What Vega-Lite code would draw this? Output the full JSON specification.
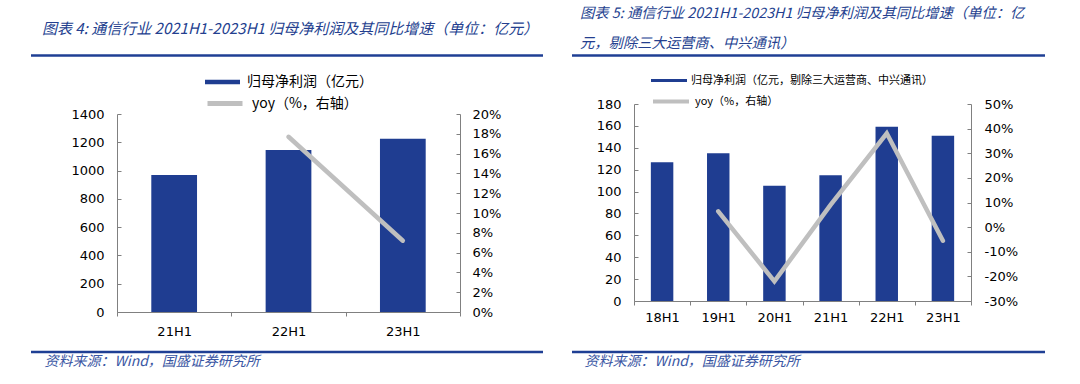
{
  "$schema": "https://vega.github.io/schema/vega-lite/v6.json",
  "padding": {"left": 29, "top": 6, "right": 5, "bottom": 5},
  "spacing": 25,
  "background": "white",
  "config": {
    "view": {"stroke": null},
    "axis": {"domainColor": "#808080", "tickColor": "#808080", "labelFont": "DejaVu Sans", "labelFontSize": 13, "labelColor": "#000000", "grid": false, "domainWidth": 1, "tickWidth": 1},
    "legend": {"labelFont": "Noto Sans CJK SC", "labelColor": "#000000", "padding": 0, "titlePadding": 0, "labelLimit": 600}
  },
  "resolve": {"scale": {"x": "independent", "y": "independent", "fill": "independent", "stroke": "independent"}, "legend": {"fill": "independent", "stroke": "independent"}},
  "hconcat": [
    {
      "width": 343,
      "height": 208,
      "title": {"text": "图表 4: 通信行业 2021H1-2023H1 归母净利润及其同比增速（单位：亿元）", "anchor": "start", "frame": "group", "dx": -75, "offset": 17, "font": "Noto Sans CJK SC", "fontSize": 15, "fontStyle": "italic", "fontWeight": "normal", "color": "#243f8f"},
      "data": {"values": [
        {"period": "21H1", "profit": 968, "yoy": null},
        {"period": "22H1", "profit": 1145, "yoy": 17.7},
        {"period": "23H1", "profit": 1225, "yoy": 7.2}
      ]},
      "layer": [
        {
          "mark": {"type": "bar", "color": "#1f3d91", "width": {"band": 0.4}},
          "encoding": {
            "x": {"field": "period", "type": "nominal", "sort": null, "scale": {"paddingInner": 0, "paddingOuter": 0},
              "axis": {"title": "资料来源：Wind，国盛证券研究所", "titleFont": "Noto Sans CJK SC", "titleFontSize": 14, "titleFontStyle": "italic", "titleFontWeight": "normal", "titleColor": "#3a56a3", "titleAnchor": "start", "titleAlign": "left", "titleBaseline": "middle", "titleX": -73, "titleY": 49, "labelAngle": 0, "tickBand": "extent", "tickSize": 4, "labelPadding": 9}},
            "y": {"field": "profit", "type": "quantitative", "scale": {"domain": [0, 1400], "range": [208, 10], "nice": false},
              "axis": {"orient": "left", "title": null, "format": "d", "values": [0, 200, 400, 600, 800, 1000, 1200, 1400], "tickSize": -4, "labelPadding": 17}},
            "fill": {"datum": "归母净利润（亿元）", "scale": {"range": ["#1f3d91"]},
              "legend": {"title": null, "orient": "none", "legendX": 88, "legendY": -39.5, "symbolType": "M-1,-0.13H1V0.13H-1Z", "symbolSize": 1225, "symbolStrokeWidth": 0, "labelFontSize": 14, "labelOffset": 7}}
          }
        },
        {
          "mark": {"type": "line", "strokeWidth": 4.5, "strokeCap": "round"},
          "encoding": {
            "x": {"field": "period", "type": "nominal", "sort": null},
            "y": {"field": "yoy", "type": "quantitative", "scale": {"domain": [0, 20], "range": [208, 10], "nice": false},
              "axis": {"orient": "right", "title": null, "values": [0, 2, 4, 6, 8, 10, 12, 14, 16, 18, 20], "labelExpr": "datum.value + '%'", "tickSize": -4, "labelPadding": 16}},
            "stroke": {"datum": "yoy（%，右轴）", "scale": {"range": ["#bfbfbf"]},
              "legend": {"title": null, "orient": "none", "legendX": 88, "legendY": -20.5, "symbolType": "stroke", "symbolSize": 1225, "symbolStrokeWidth": 5, "labelFontSize": 14, "labelOffset": 7}}
          }
        },
        {
          "data": {"values": [{}]},
          "mark": {"type": "rule", "color": "#1f3f94", "strokeWidth": 2.5},
          "encoding": {"x": {"value": -86}, "x2": {"value": 426}, "y": {"value": -48.5}}
        },
        {
          "data": {"values": [{}]},
          "mark": {"type": "rule", "color": "#1f3f94", "strokeWidth": 2.5},
          "encoding": {"x": {"value": -86}, "x2": {"value": 426}, "y": {"value": 248}}
        }
      ],
      "resolve": {"scale": {"y": "independent"}}
    },
    {
      "width": 337,
      "height": 197,
      "title": {"text": ["图表 5: 通信行业 2021H1-2023H1 归母净利润及其同比增速（单位：亿", "元，剔除三大运营商、中兴通讯）"], "lineHeight": 30, "anchor": "start", "frame": "group", "dx": -54, "offset": 3, "font": "Noto Sans CJK SC", "fontSize": 14.3, "fontStyle": "italic", "fontWeight": "normal", "color": "#243f8f"},
      "data": {"values": [
        {"period": "18H1", "profit": 126.7, "yoy": null},
        {"period": "19H1", "profit": 135, "yoy": 6.4},
        {"period": "20H1", "profit": 105.4, "yoy": -22},
        {"period": "21H1", "profit": 115, "yoy": 9},
        {"period": "22H1", "profit": 159.3, "yoy": 38.1},
        {"period": "23H1", "profit": 151, "yoy": -5.5}
      ]},
      "layer": [
        {
          "mark": {"type": "bar", "color": "#1f3d91", "width": {"band": 0.4}},
          "encoding": {
            "x": {"field": "period", "type": "nominal", "sort": null, "scale": {"paddingInner": 0, "paddingOuter": 0},
              "axis": {"title": "资料来源：Wind，国盛证券研究所", "titleFont": "Noto Sans CJK SC", "titleFontSize": 14, "titleFontStyle": "italic", "titleFontWeight": "normal", "titleColor": "#3a56a3", "titleAnchor": "start", "titleAlign": "left", "titleBaseline": "middle", "titleX": -50, "titleY": 60, "labelAngle": 0, "tickBand": "extent", "tickSize": 4, "labelPadding": 6}},
            "y": {"field": "profit", "type": "quantitative", "scale": {"domain": [0, 180], "nice": false},
              "axis": {"orient": "left", "title": null, "values": [0, 20, 40, 60, 80, 100, 120, 140, 160, 180], "tickSize": -4, "labelPadding": 17}},
            "fill": {"datum": "归母净利润（亿元，剔除三大运营商、中兴通讯）", "scale": {"range": ["#1f3d91"]},
              "legend": {"title": null, "orient": "none", "legendX": 17, "legendY": -41.5, "symbolType": "M-1,-0.09H1V0.09H-1Z", "symbolSize": 1296, "symbolStrokeWidth": 0, "labelFontSize": 11, "labelOffset": 4}}
          }
        },
        {
          "mark": {"type": "line", "strokeWidth": 4.5, "strokeCap": "round"},
          "encoding": {
            "x": {"field": "period", "type": "nominal", "sort": null},
            "y": {"field": "yoy", "type": "quantitative", "scale": {"domain": [-30, 50], "nice": false},
              "axis": {"orient": "right", "title": null, "values": [-30, -20, -10, 0, 10, 20, 30, 40, 50], "labelExpr": "datum.value + '%'", "tickSize": -4, "labelPadding": 17}},
            "stroke": {"datum": "yoy（%，右轴）", "scale": {"range": ["#bfbfbf"]},
              "legend": {"title": null, "orient": "none", "legendX": 17, "legendY": -22.5, "symbolType": "stroke", "symbolSize": 1296, "symbolStrokeWidth": 4, "labelFontSize": 11, "labelOffset": 4}}
          }
        },
        {
          "data": {"values": [{}]},
          "mark": {"type": "rule", "color": "#1f3f94", "strokeWidth": 2.5},
          "encoding": {"x": {"value": -62}, "x2": {"value": 411}, "y": {"value": -48.5}}
        },
        {
          "data": {"values": [{}]},
          "mark": {"type": "rule", "color": "#1f3f94", "strokeWidth": 2.5},
          "encoding": {"x": {"value": -62}, "x2": {"value": 411}, "y": {"value": 248}}
        }
      ],
      "resolve": {"scale": {"y": "independent"}}
    }
  ]
}
